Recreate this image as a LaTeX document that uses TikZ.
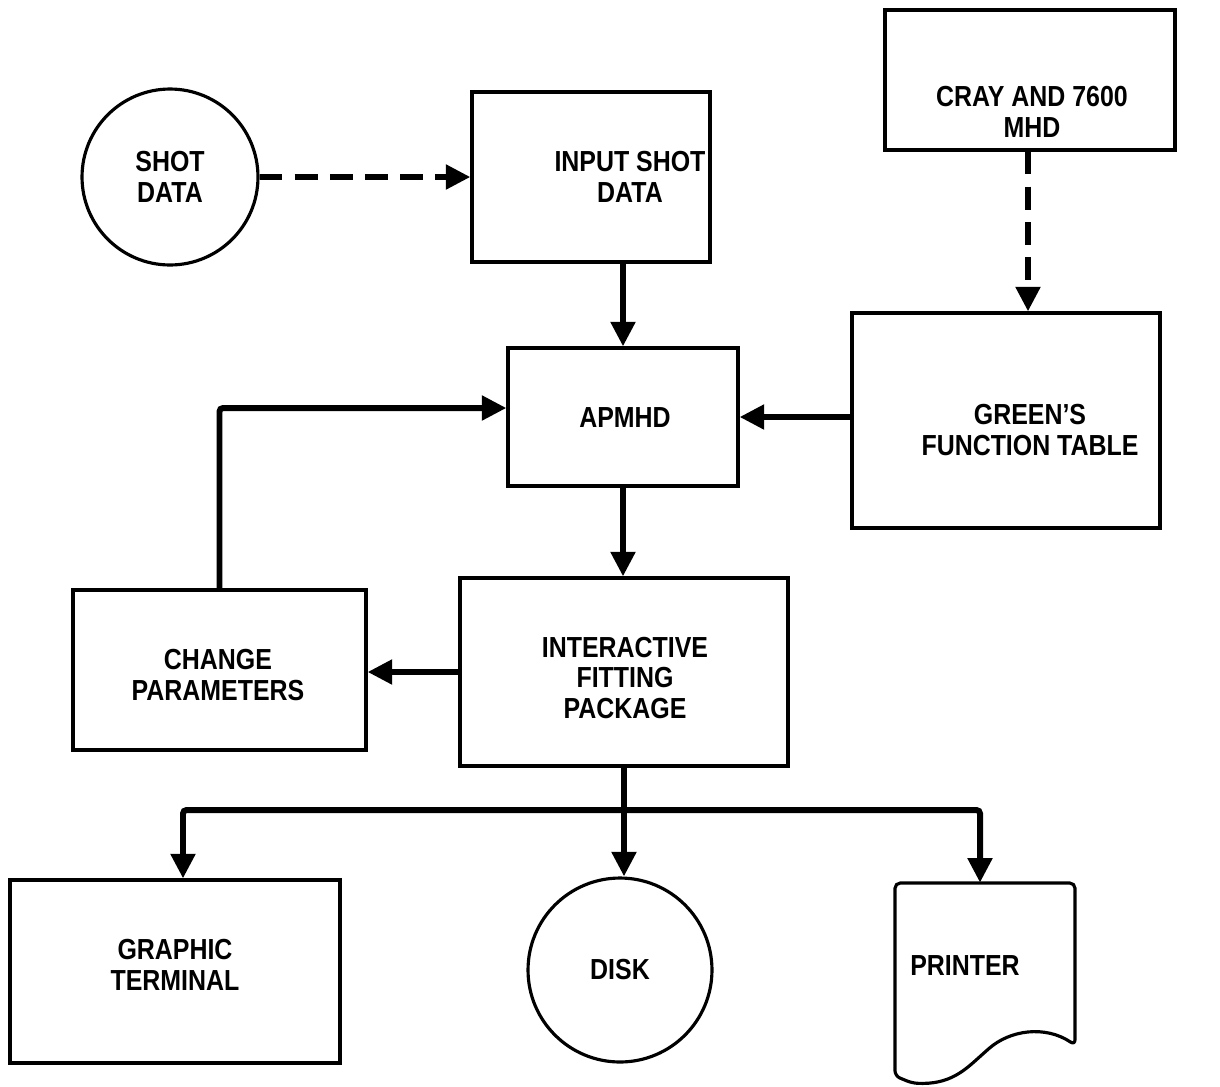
\documentclass[tikz,border=0pt]{standalone}
\usepackage{fontspec}
\setmainfont{Liberation Sans}[FakeStretch=0.86]
\usetikzlibrary{arrows.meta,fit,calc}
\begin{document}
\begin{tikzpicture}[x=0.02cm,y=-0.02cm,
  box/.style={draw,line width=1.8pt,inner sep=0pt,rectangle},
  circ/.style={draw,line width=1.8pt,circle,inner sep=0pt},
  lbl/.style={align=center,font=\fontsize{16.5}{17.5}\selectfont\bfseries},
  arr/.style={line width=3.4pt,-{Triangle[length=14pt,width=13.5pt]}},
  dasharr/.style={arr,dash pattern=on 13pt off 7pt},
  conn/.style={line width=3.4pt}]
\useasboundingbox (0,0) rectangle (1220,1086);
% nodes
\node[circ,minimum size=3.52cm] (shot) at (170,177) {};
\node[lbl] (shotl) at (170,177) {SHOT\\DATA};
\node[box,fit={(472,92) (710,262)}] (input) {};
\node[lbl] (inputl) at (630,177) {INPUT SHOT\\DATA};
\node[box,fit={(885,10) (1175,150)}] (cray) {};
\node[lbl] (crayl) at (1032,112) {CRAY AND 7600\\MHD};
\node[box,fit={(852,313) (1160,528)}] (green) {};
\node[lbl] (greenl) at (1030,430) {GREEN'S\\FUNCTION TABLE};
\node[box,fit={(508,348) (738,486)}] (apmhd) {};
\node[lbl] (apmhdl) at (625,418) {APMHD};
\node[box,fit={(460,578) (788,766)}] (ifp) {};
\node[lbl] (ifpl) at (625,678) {INTERACTIVE\\FITTING\\PACKAGE};
\node[box,fit={(73,590) (366,750)}] (change) {};
\node[lbl] (changel) at (218,675) {CHANGE\\PARAMETERS};
\node[box,fit={(10,880) (340,1063)}] (graphic) {};
\node[lbl] (graphicl) at (175,965) {GRAPHIC\\TERMINAL};
\node[circ,minimum size=3.68cm] (disk) at (620,970) {};
\node[lbl] (diskl) at (620,970) {DISK};
\node[inner sep=0pt,fit={(895,883) (1075,1083)}] (printer) {};
\draw[line width=1.8pt,rounded corners=3pt] (895,883) -- (1075,883) -- (1075,1045)
  .. controls (1045,1025) and (1010,1030) .. (985,1052)
  .. controls (965,1070) and (950,1085) .. (912,1083)
  -- (895,1076) -- cycle;
\node[lbl] (printerl) at (965,966) {PRINTER};
\coordinate (br) at (625,810);
% connectors
\draw[dasharr] (shot.east) -- (input.west);
\draw[dasharr] ([xshift=-0.04cm]cray.south) -- ([xshift=-0.04cm]cray.south |- green.north);
\draw[arr] (apmhd.north |- input.south) -- (apmhd.north);
\draw[arr] (green.west |- apmhd.east) -- (apmhd.east);
\draw[arr,rounded corners=2pt] (change.north) |- ([yshift=0.18cm]apmhd.west);
\draw[arr] (apmhd.south) -- (apmhd.south |- ifp.north);
\draw[arr] (ifp.west) -- (ifp.west -| change.east);
\draw[arr] (ifp.south) -- (ifp.south |- disk.north);
\draw[arr,rounded corners=2pt] (br) -| ([xshift=0.16cm]graphic.north);
\draw[arr,rounded corners=2pt] (br) -| ([xshift=-0.1cm]printer.north);
\end{tikzpicture}
\end{document}
